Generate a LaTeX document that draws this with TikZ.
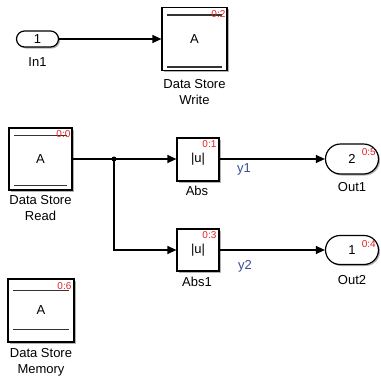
\documentclass[tikz,border=0pt]{standalone}
\usepackage{fontspec}
\setmainfont{Liberation Sans}
\usetikzlibrary{arrows.meta,shapes.misc,shadows}
\definecolor{sigblue}{RGB}{55,75,150}
\definecolor{tagred}{RGB}{235,30,30}
\begin{document}
\begin{tikzpicture}[x=1pt,y=-1pt,
  blk/.style={draw=black,line width=1.2pt,fill=white,rectangle,inner sep=0pt,
    drop shadow={shadow xshift=1.5pt,shadow yshift=-1.5pt,fill=black!30,opacity=1}},
  port/.style={draw=black,line width=1.2pt,fill=white,rounded rectangle,inner sep=0pt,
    drop shadow={shadow xshift=1.5pt,shadow yshift=-1.5pt,fill=black!30,opacity=1}},
  lbl/.style={font=\fontsize{13}{16}\selectfont,align=center,inner sep=0pt},
  intxt/.style={font=\fontsize{13}{15}\selectfont,inner sep=0pt},
  tag/.style={font=\fontsize{10}{10}\selectfont,text=tagred,inner sep=0pt},
  sig/.style={font=\fontsize{13}{15}\selectfont,text=sigblue,inner sep=0pt},
  wire/.style={line width=1.2pt},
  arr/.style={wire,-{Triangle[length=9pt,width=8pt]}},
  bar/.style={line width=1.3pt,draw=black!80}
]
\useasboundingbox (0,0) rectangle (381,378);

% blocks
\node[port,minimum width=42pt,minimum height=16pt] (in1) at (37.5,39) {};
\node[intxt] at (in1.center) {1};
\node[lbl] (in1l) at (37.5,62) {In1};

\node[blk,minimum width=65pt,minimum height=63pt] (dsw) at (194.5,39) {};
\node[intxt] at (dsw.center) {A};
\draw[bar] ([xshift=6pt,yshift=-8pt]dsw.north west) -- ([xshift=-6pt,yshift=-8pt]dsw.north east);
\draw[bar] ([xshift=6pt,yshift=4pt]dsw.south west) -- ([xshift=-6pt,yshift=4pt]dsw.south east);
\node[tag,anchor=north east] at ([xshift=-2pt,yshift=-3pt]dsw.north east) {0:2};
\node[lbl,anchor=north] (dswl) at (194.5,79) {Data Store\\Write};

\node[blk,minimum width=63pt,minimum height=62pt] (dsr) at (40.5,159) {};
\node[intxt] at (dsr.center) {A};
\draw[bar] ([xshift=6pt,yshift=-8pt]dsr.north west) -- ([xshift=-6pt,yshift=-8pt]dsr.north east);
\draw[bar] ([xshift=6pt,yshift=5pt]dsr.south west) -- ([xshift=-6pt,yshift=5pt]dsr.south east);
\node[tag,anchor=north east] at ([xshift=-2pt,yshift=-3pt]dsr.north east) {0:0};
\node[lbl,anchor=north] (dsrl) at (40.5,195) {Data Store\\Read};

\node[blk,minimum width=42pt,minimum height=43pt] (abs) at (198,159.5) {};
\node[intxt] at (abs.center) {|u|};
\node[tag,anchor=north east] at ([xshift=-3pt,yshift=-3pt]abs.north east) {0:1};
\node[lbl,anchor=north] (absl) at (197,186) {Abs};

\node[blk,minimum width=42pt,minimum height=42pt] (abs1) at (198,250) {};
\node[intxt] at (abs1.center) {|u|};
\node[tag,anchor=north east] at ([xshift=-3pt,yshift=-3pt]abs1.north east) {0:3};
\node[lbl,anchor=north] (abs1l) at (197,277) {Abs1};

\node[port,minimum width=53pt,minimum height=30pt] (out1) at (352,159) {};
\node[intxt] at (out1.center) {2};
\node[tag,anchor=east] at (376,152) {0:5};
\node[lbl] (out1l) at (352,187) {Out1};

\node[port,minimum width=53pt,minimum height=29pt] (out2) at (352,250) {};
\node[intxt] at (out2.center) {1};
\node[tag,anchor=east] at (376,244) {0:4};
\node[lbl] (out2l) at (352,280) {Out2};

\node[blk,minimum width=66pt,minimum height=63pt] (dsm) at (41,310.5) {};
\node[intxt] at (dsm.center) {A};
\draw[bar] ([xshift=6pt,yshift=-12pt]dsm.north west) -- ([xshift=-6pt,yshift=-12pt]dsm.north east);
\node[tag,anchor=north east] at ([xshift=-3pt,yshift=-4pt]dsm.north east) {0:6};
\draw[bar] ([xshift=6pt,yshift=13pt]dsm.south west) -- ([xshift=-6pt,yshift=13pt]dsm.south east);
\node[lbl,anchor=north] (dsml) at (41,348) {Data Store\\Memory};

% connections
\coordinate (br) at (114,159);
\draw[arr] (in1.east) -- (dsw.west);
\draw[wire] (dsr.east |- br) -- (br);
\fill (br) circle (2.5pt);
\draw[arr] (br) -- (abs.west |- br);
\draw[arr] (br) |- (abs1.west);
\draw[arr] (abs.east |- out1) -- (out1.west);
\draw[arr] (abs1.east) -- (out2.west);
\node[sig] (y1) at (244,169) {y1};
\node[sig] (y2) at (245,266) {y2};
\end{tikzpicture}
\end{document}
